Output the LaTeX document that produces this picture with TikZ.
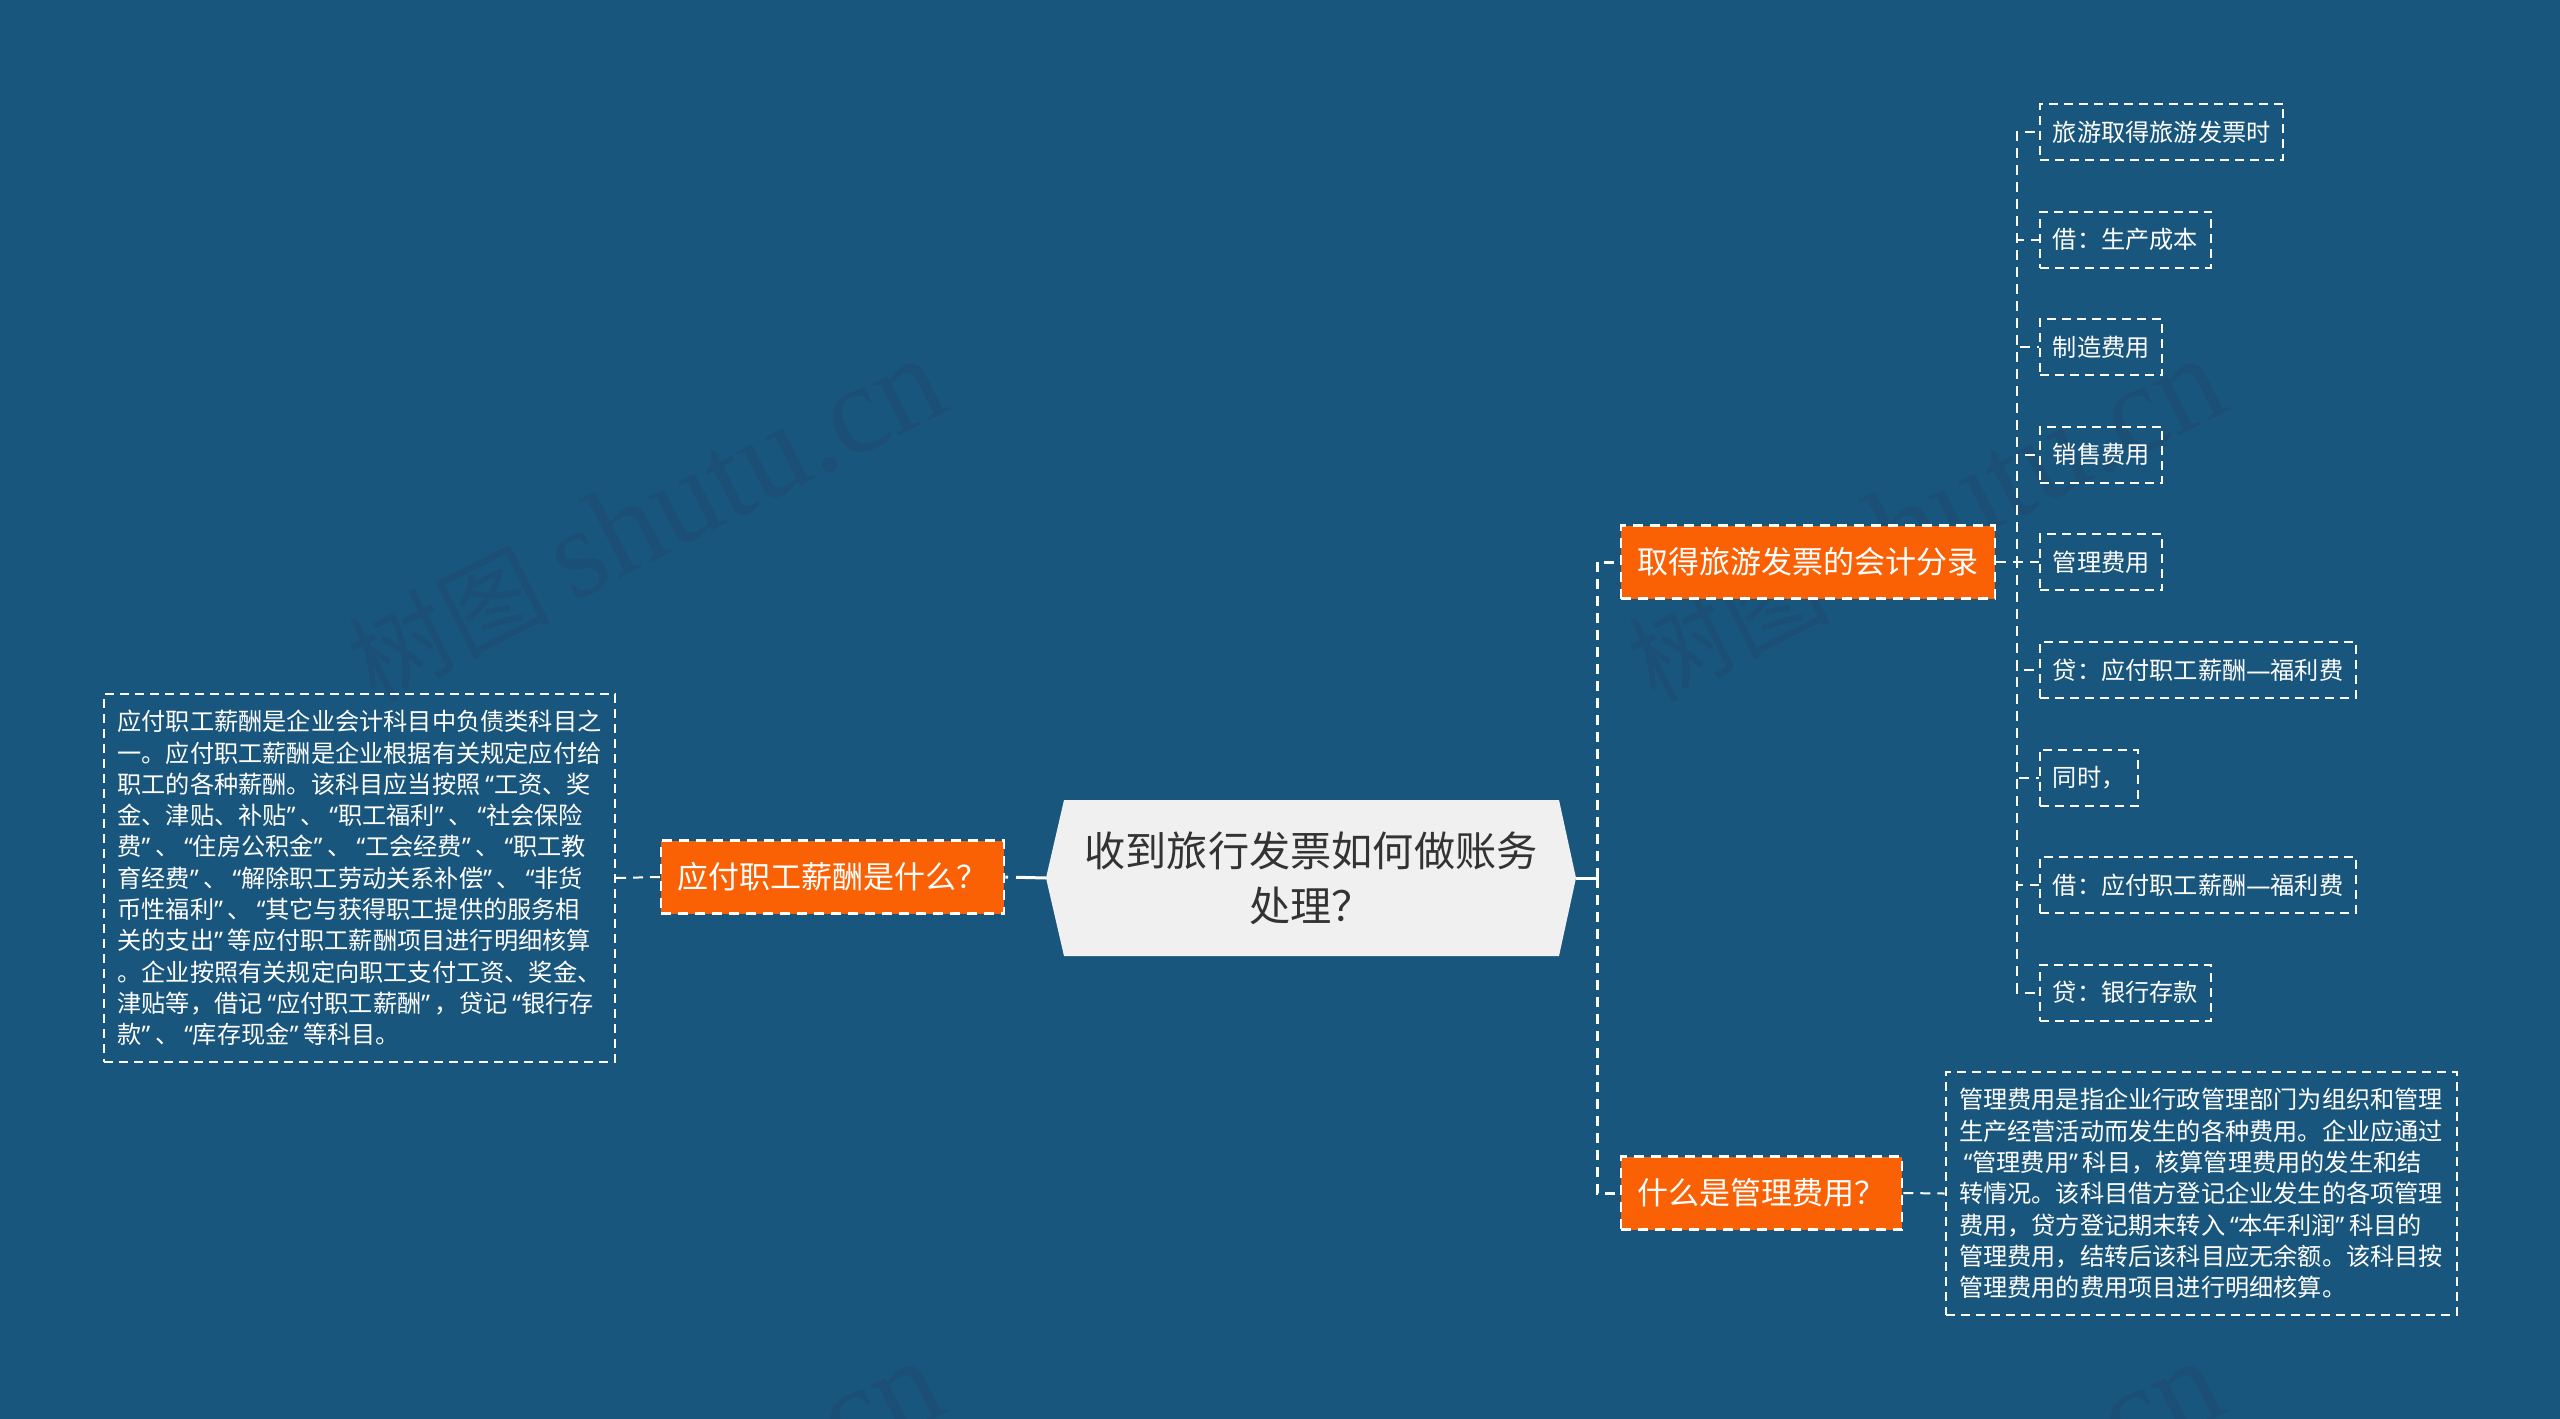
\documentclass[tikz,border=0pt]{standalone}
\usepackage{fontspec}
\setmainfont{Noto Sans CJK SC}
\newfontfamily\markfont{Liberation Serif}
\newfontfamily\quotefont{Noto Sans}
\newcommand\oq{\hspace{.2em}{\quotefont “}}
\newcommand\cq{{\quotefont ”}\hspace{.2em}}
\newcommand\emd{{\quotefont —}}
\definecolor{bgblue}{HTML}{19567D}
\definecolor{markblue}{HTML}{1C4F75}
\definecolor{rootgray}{HTML}{F0F0F0}
\definecolor{branchorange}{HTML}{FA6105}

\begin{document}
\begin{tikzpicture}[x=.5pt,y=-.5pt,
    leaf/.style={draw=white,line width=1pt,dash pattern=on 4.5pt off 3pt,text=white,anchor=west,minimum height=28pt,inner xsep=6.4pt,inner ysep=0pt,font=\fontsize{12.1}{15.65}\selectfont},
    note/.style={leaf,anchor=center,align=left},
    branch/.style={draw=white,line width=1.2pt,dash pattern=on 5pt off 3.5pt,fill=branchorange,text=white,anchor=west,minimum height=36.5pt,inner xsep=8.25pt,inner ysep=0pt,font=\fontsize{15.5}{20}\selectfont},
    thinlink/.style={draw=white,line width=1pt,dash pattern=on 5pt off 3.5pt},
    thicklink/.style={draw=white,line width=1.5pt,dash pattern=on 5pt off 3.5pt},
    rootlink/.style={draw=white,line width=1.5pt,dash pattern=on 15pt off 4pt},
    watermark/.style={text=markblue,rotate=27,font=\fontsize{50}{60}\selectfont}]
    \fill[bgblue] (0,0) rectangle (2560,1419);
    \useasboundingbox (0,0) rectangle (2560,1419);
    \foreach \x/\y/\n in {646/520/m1, 1926/520/m2, 644/1522/m3, 1924/1522/m4}
    \node[watermark] (\n) at (\x,\y) {树图 {\markfont\fontsize{63.5}{60}\selectfont shutu.cn}};

    \path[fill=rootgray] (1046,878) -- (1064,800) -- (1559,800) -- (1576,878) -- (1559,956) -- (1064,956) -- cycle;
    \node[text=black!80,align=center,font=\fontsize{20.6}{27.5}\selectfont] (root) at (1311,878) {收到旅行发票如何做账务\\处理？};
    \coordinate (rootl) at (1046,878);
    \coordinate (rootr) at (1576,878);
    \coordinate (trunk) at (1597,878);
    \coordinate (trunkb) at (2017,562);

    \foreach \x/\y/\n/\t in {660/877/pay/应付职工薪酬是什么？, 1620/562/entry/取得旅游发票的会计分录, 1620/1193/fee/什么是管理费用？}
    \node[branch] (\n) at (\x,\y) {\t};

    \foreach \y/\n/\t in {132/l1/旅游取得旅游发票时, 239.6/l2/借：生产成本, 347.2/l3/制造费用, 454.7/l4/销售费用, 562.3/l5/管理费用, 670/l6/贷：应付职工薪酬\emd 福利费, 777.5/l7/同时，, 885/l8/借：应付职工薪酬\emd 福利费, 992.7/l9/贷：银行存款}
    \node[leaf] (\n) at (2039,\y) {\t};

    \node[note,minimum width=255.5pt,minimum height=184pt] (payn) at (359.5,878) {应付职工薪酬是企业会计科目中负债类科目之\\
一。应付职工薪酬是企业根据有关规定应付给\\
职工的各种薪酬。该科目应当按照\oq 工资、奖\\
金、津贴、补贴\cq、\oq 职工福利\cq、\oq 社会保险\\
费\cq、\oq 住房公积金\cq、\oq 工会经费\cq、\oq 职工教\\
育经费\cq、\oq 解除职工劳动关系补偿\cq、\oq 非货\\
币性福利\cq、\oq 其它与获得职工提供的服务相\\
关的支出\cq 等应付职工薪酬项目进行明细核算\\
。企业按照有关规定向职工支付工资、奖金、\\
津贴等，借记\oq 应付职工薪酬\cq，贷记\oq 银行存\\
款\cq、\oq 库存现金\cq 等科目。};
    \node[note,minimum width=255.5pt,minimum height=121.5pt] (feen) at (2201,1193.5) {管理费用是指企业行政管理部门为组织和管理\\
生产经营活动而发生的各种费用。企业应通过\\
\oq 管理费用\cq 科目，核算管理费用的发生和结\\
转情况。该科目借方登记企业发生的各项管理\\
费用，贷方登记期末转入\oq 本年利润\cq 科目的\\
管理费用，结转后该科目应无余额。该科目按\\
管理费用的费用项目进行明细核算。};

    \draw[rootlink] (rootl) -- (pay.east);
    \draw[rootlink] (rootr) -- (trunk);
    \foreach \t in {entry, fee}
    \draw[thicklink] (trunk) |- (\t.west);
    \foreach \t in {l1, l2, l3, l4, l5, l6, l7, l8, l9}
    \draw[thinlink] (entry.east) -- (trunkb) |- (\t.west);
    \draw[thinlink] (pay.west) -- (payn.east);
    \draw[thinlink] (fee.east) -- (feen.west);
\end{tikzpicture}
\end{document}
